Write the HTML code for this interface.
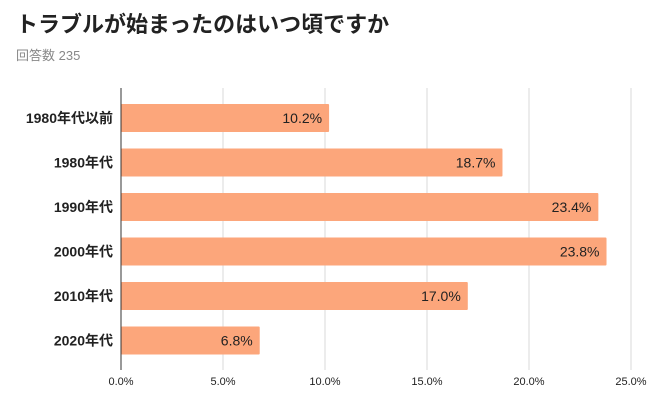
<!DOCTYPE html>
<html><head><meta charset="utf-8">
<style>
body{margin:0;background:#fff;width:650px;height:402px;overflow:hidden;font-family:"Liberation Sans","Noto Sans CJK JP",sans-serif;}
#title{position:absolute;left:16px;top:7px;font-size:22px;font-weight:bold;color:#222;}
#sub{position:absolute;left:16px;top:45px;font-size:13px;color:#888;}
svg{position:absolute;left:0;top:0;}
</style></head><body>
<div id="title">トラブルが始まったのはいつ頃ですか</div>
<div id="sub">回答数 235</div>
<svg id="chart" width="650" height="402"></svg>
<script>
const categories=["1980年代以前","1980年代","1990年代","2000年代","2010年代","2020年代"];
const values=[10.2,18.7,23.4,23.8,17.0,6.8];
const ticks=[0,5,10,15,20,25];
const svg=document.getElementById('chart');
const NS='http://www.w3.org/2000/svg';
const x0=121,xPer=102,top0=104,pitch=44.5,bh=28,axTop=88,axBot=370;
function sx(v){return x0+v*xPer/5;}
function mk(t,a){const e=document.createElementNS(NS,t);for(const k in a)e.setAttribute(k,a[k]);svg.appendChild(e);return e;}
ticks.forEach(t=>{
  if(t>0){const g=mk('line',{x1:sx(t),x2:sx(t),y1:axTop,y2:axBot,stroke:'#d9d9d9','stroke-width':1});
  
  }
  const l=mk('text',{x:sx(t),y:385,'text-anchor':'middle','font-size':11,fill:'#222'});
  l.textContent=t.toFixed(1)+'%';
  
  
});
categories.forEach((c,i)=>{
  const y=top0+i*pitch;
  const r=mk('rect',{x:x0,y:y,width:sx(values[i])-x0,height:bh,fill:'#fca67b',rx:1});
  
  
  const v=mk('text',{x:sx(values[i])-7,y:y+bh/2+5,'text-anchor':'end','font-size':14,fill:'#222'});
  v.textContent=values[i].toFixed(1)+'%';
  
  
  const cl=mk('text',{x:113,y:y+bh/2+5,'text-anchor':'end','font-size':14,'font-weight':'bold',fill:'#222'});
  cl.textContent=c;
  
  
});
const ax=mk('line',{x1:x0,x2:x0,y1:axTop,y2:axBot,stroke:'#333','stroke-width':1});


</script>
</body></html>
